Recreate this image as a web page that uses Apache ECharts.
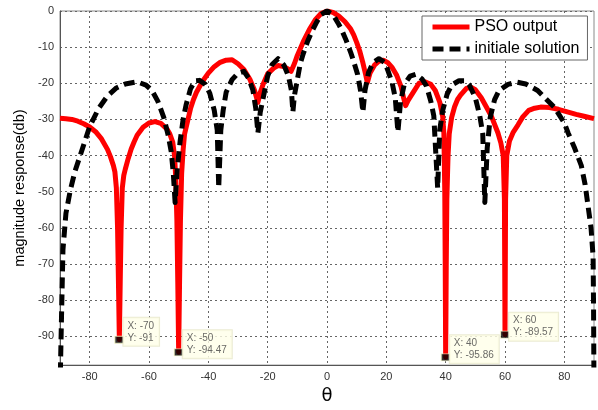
<!DOCTYPE html>
<html>
<head>
<meta charset="utf-8">
<script src="https://cdn.jsdelivr.net/npm/echarts@6/dist/echarts.min.js"></script>
<style>
  html, body { margin: 0; padding: 0; background: #fff; }
  #chart { width: 598px; height: 410px; }
</style>
</head>
<body>
<div id="chart"></div>
<script>
// Optimised pattern (PSO output), angle in degrees and magnitude in dB
const psoTheta = [-90, -88, -86, -84, -82, -80, -78, -76, -74, -73, -72, -71.5, -71, -70.6, -70.3,
  -69.7, -69.4, -69, -68.5, -68, -67, -66, -65, -64, -62, -60, -58, -56, -54, -53, -52, -51.4, -51, -50.6, -50.3,
  -49.7, -49.4, -49, -48.5, -48, -47, -46, -45, -44, -42, -40, -38, -36, -34, -32, -30, -28, -26, -24.5,
  -23.3, -22.5, -21.5, -20, -18, -16.5, -14.5, -13, -12.1, -11, -10, -8, -6, -4, -2, 0, 2, 4, 6, 8, 9, 10,
  11, 12, 13, 13.6, 14.5, 16, 17.5, 19, 20.5, 22, 23.5, 25, 25.8, 26.5, 27.3, 29, 31, 33, 35, 36.5, 38, 39,
  39.4, 39.7, 39.85, 40.2, 40.4, 40.8, 41.2, 42, 43, 44, 45, 47, 48.5, 50, 52, 54, 55.5, 57.6, 58.6, 59.4, 59.8,
  60.2, 60.6, 61.5, 62.8, 64.4, 66, 68, 70, 72, 75, 78, 81, 84, 87, 90];
const psoDb = [-29.7, -29.8, -30.0, -30.5, -31.2, -32.1, -33.4, -35.4, -38.3, -40.3, -42.8, -44.5, -49, -60, -75,
  -75, -60, -49, -45.5, -43.8, -40.8, -38.2, -36.2, -34.4, -32.2, -31.0, -30.6, -31.1, -32.6, -34.0, -36.3, -40, -46, -58, -75,
  -75, -58, -45, -38.5, -34, -30.5, -27.0, -24.5, -22.5, -19.5, -17.2, -15.4, -14.2, -13.6, -13.5, -14.6, -16.2, -18.9, -21.8,
  -25.3, -22.6, -20.2, -17.4, -15.8, -15.1, -15.4, -16.1, -16.7, -14.6, -12.3, -8.5, -5.2, -2.5, -0.7, 0, -0.4, -1.4, -2.9, -5.0, -6.6, -8.7,
  -11.0, -14.0, -17.5, -19.8, -17.2, -15.0, -13.9, -13.6, -14.3, -15.7, -17.8, -21.0, -24.0, -26.2, -24.8, -22.6, -20.0, -19.6, -20.3, -22.0, -25.2, -29.2,
  -34, -50, -70, -70, -52, -40, -34, -29.5, -26.5, -24.5, -23.3, -21.4, -21.1, -21.8, -24.0, -27.0, -29.3, -33.7, -36.5, -40, -52,
  -52, -40, -36, -33.5, -31.5, -29.3, -27.5, -26.9, -26.6, -26.7, -27.2, -27.9, -28.6, -29.2, -29.8];

// Starting pattern (initiale solution)
const initTheta = [-90, -89.5, -89, -88, -86.5, -85, -83, -80, -77, -74, -71, -68, -64, -61, -59, -57, -55, -53.5,
  -52.5, -51.8, -51.2, -50.5, -49.5, -48.5, -47.5, -46, -44.5, -43, -41, -39.5, -38, -37, -36.5, -35.8, -35, -34,
  -32, -30, -28, -26.5, -25, -24, -23.3, -22.5, -21.5, -20, -18.5, -16.5, -14.5, -13, -12, -11.5, -11, -10, -9,
  -8, -6.5, -5, -3.7, -2, 0, 2, 3.7, 5, 6.5, 8, 9, 10.3, 11.3, 12.1, 12.8, 14, 15.5, 17.5, 19.5, 20.5, 22, 23,
  23.9, 24.8, 26, 28, 30, 32, 33.5, 35, 36, 37.3, 38, 39, 40.5, 42, 44.5, 46.5, 48, 50, 51.5, 52.5, 53.2, 54, 55,
  56.5, 58, 61, 64, 67, 71, 74, 76.6, 80, 81.3, 83.5, 85.7, 87, 88, 89, 89.7, 89.85, 90];
const initDb = [-105, -85, -66, -56, -49.5, -44.5, -39.5, -32, -27, -23.5, -21.3, -20.2, -19.6, -20.5, -22, -25, -29.5, -34.5,
  -39, -45, -53, -44, -36, -30, -26, -21.5, -19.3, -19.2, -20.3, -22.8, -27.5, -33, -49, -33, -27.5, -22.5,
  -19, -17.2, -16.7, -18.5, -21.8, -27, -33.8, -28, -24, -18, -14.8, -13.2, -15, -18, -22, -28, -23.5, -19, -14.5,
  -11.8, -8.3, -5.5, -3.4, -1, 0, -1, -3.3, -5.3, -8.2, -11.5, -14, -17.5, -22, -28, -22, -17, -14.3, -13.2, -14.3, -16.4, -20, -24,
  -33.5, -25, -20.5, -18, -17.5, -18.8, -20.7, -25, -29, -49, -33, -27.5, -23, -20.5, -19.3, -19.3, -20.5, -24, -29, -34, -53, -38, -29.5,
  -24.5, -22, -20.3, -19.7, -20.2, -22, -24.5, -26.6, -31, -33.8, -38, -42.7, -48, -54, -60, -68, -82, -105];

// Data tips placed on the nulls of the optimised pattern
const tipTheta = [-70, -50, 40, 60];
const tipDb = [-91, -94.47, -95.86, -89.57];

// Axis tick positions
const xTicks = [-80, -60, -40, -20, 0, 20, 40, 60, 80];
const yTicks = [-90, -80, -70, -60, -50, -40, -30, -20, -10, 0];

// Optimised curve including the data-tip nulls, ordered by angle
const psoPairs = psoTheta.map((t, i) => [t, psoDb[i]])
  .concat(tipTheta.map((t, i) => [t, tipDb[i]]))
  .sort((a, b) => a[0] - b[0]);
const initPairs = initTheta.map((t, i) => [t, initDb[i]]);
const tipPairs = tipTheta.map((t, i) => [t, tipDb[i]]);

const gridLine = { show: true, lineStyle: { color: '#666', width: 1, type: [2, 3] } };
const fontFamily = '"Liberation Sans", Arial, sans-serif';

const chart = echarts.init(document.getElementById('chart'), null, { renderer: 'canvas' });
chart.setOption({
  animation: false,
  backgroundColor: '#fff',
  textStyle: { fontFamily },
  grid: {
    left: 60, right: 4, top: 11, bottom: 32,
    show: true, borderColor: '#8a8a8a', borderWidth: 1, backgroundColor: 'transparent'
  },
  legend: {
    orient: 'vertical',
    left: 422, top: 16,
    padding: [3, 8, 3, 8],
    itemWidth: 37, itemHeight: 14, itemGap: 6,
    backgroundColor: '#fff', borderColor: '#666', borderWidth: 1, borderRadius: 0,
    itemStyle: { opacity: 0 },
    lineStyle: { width: 5 },
    textStyle: { fontSize: 16, color: '#000', fontFamily },
    data: ['PSO output', 'initiale solution']
  },
  xAxis: {
    type: 'value', min: -90, max: 90,
    name: 'θ', nameLocation: 'middle', nameGap: 16,
    nameTextStyle: { fontSize: 18, color: '#000', fontFamily: '"DejaVu Sans", sans-serif' },
    axisLine: { show: true, onZero: false, lineStyle: { color: '#555', width: 1 } },
    axisTick: { show: false, customValues: xTicks },
    axisLabel: { customValues: xTicks, color: '#333', fontSize: 11, margin: 6 },
    splitLine: gridLine
  },
  yAxis: {
    type: 'value', min: -98, max: 0,
    name: 'magnitude response(db)', nameLocation: 'middle', nameGap: 26, nameRotate: 90,
    nameTextStyle: { fontSize: 14.5, color: '#000', fontFamily },
    axisLine: { show: true, onZero: false, lineStyle: { color: '#555', width: 1 } },
    axisTick: { show: false, customValues: yTicks },
    axisLabel: { customValues: yTicks, color: '#333', fontSize: 11, margin: 6 },
    splitLine: gridLine
  },
  series: [
    {
      name: 'PSO output', type: 'line', data: psoPairs,
      symbol: 'none', clip: true, z: 2,
      lineStyle: { color: '#ff0000', width: 5, join: 'round' },
      itemStyle: { color: '#ff0000' }
    },
    {
      name: 'initiale solution', type: 'line', data: initPairs,
      symbol: 'none', clip: true, z: 3,
      lineStyle: { color: '#000', width: 5, type: [11, 6], join: 'round' },
      itemStyle: { color: '#000' }
    },
    {
      name: 'tips', type: 'scatter', data: tipPairs, z: 5,
      symbol: 'rect', symbolSize: [9, 7],
      itemStyle: { color: '#000', borderColor: '#ffffcc', borderWidth: 1 },
      label: {
        show: true, position: 'right', distance: 0, offset: [-1, -8],
        formatter: p => 'X: ' + p.value[0] + '\nY: ' + p.value[1],
        color: '#444', fontSize: 10, lineHeight: 12, fontFamily,
        backgroundColor: '#ffffe8', borderColor: '#e6e6c8', borderWidth: 1,
        padding: [2, 5, 2, 4], align: 'left'
      }
    }
  ]
});
</script>
</body>
</html>
